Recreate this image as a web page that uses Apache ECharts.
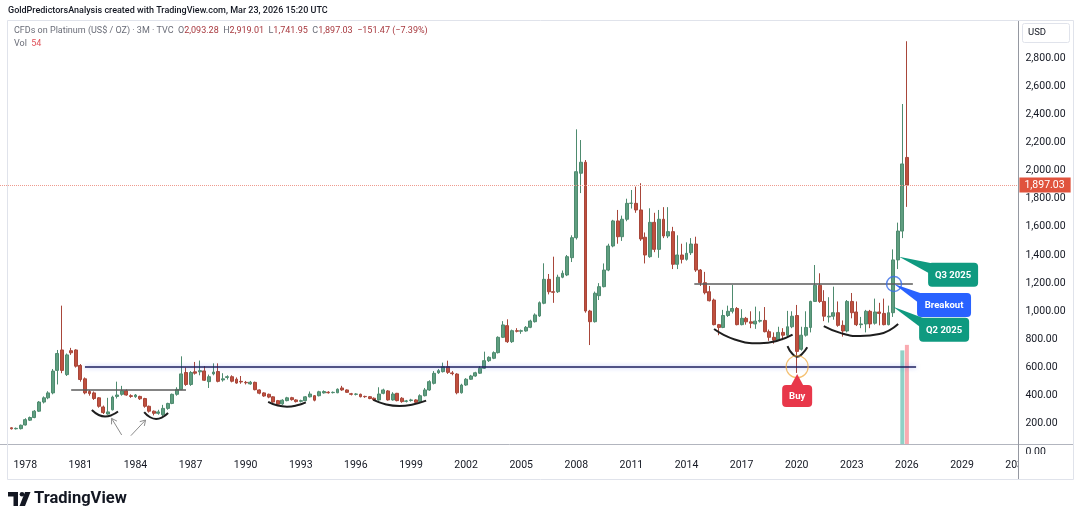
<!DOCTYPE html>
<html><head><meta charset="utf-8">
<script src="https://cdn.jsdelivr.net/npm/echarts@6/dist/echarts.min.js"></script>
<style>html,body{margin:0;padding:0;background:#fff}#c{width:1080px;height:522px}</style>
</head><body><div id="c"></div>
<script>
// ---------------- DATA ----------------
// quarterly categories: 1976 Q4 .. 2032 Q1 (axis room on both sides)
const firstYear = 1976, firstQ = 4, categoryCount = 222;
const candleStartIndex = 2; // first candle = 1977 Q2
// quarterly candles [open, close, low, high]
const ohlc = [
  [172,165,160,176],[165,168,160,174],[166,190,160,195],
  [192,230,188,240],[226,245,220,252],[245,290,240,298],[290,355,285,362],
  [355,385,345,395],[385,420,375,432],[420,575,410,590],[580,700,480,725],
  [725,580,560,1040],[550,690,540,700],[720,705,690,740],[725,610,600,730],
  [615,515,500,625],[520,420,410,530],[430,415,400,440],[420,380,370,430],
  [385,325,315,390],[320,280,270,330],[270,285,265,385],[300,390,295,400],
  [395,405,380,500],[410,435,400,470],[435,405,400,445],[400,395,385,410],
  [393,405,385,412],[395,378,370,400],[380,325,315,385],[325,290,280,330],
  [290,275,260,295],[275,285,265,300],[265,310,255,335],[310,345,300,350],
  [345,410,340,415],[410,445,400,460],[445,555,440,680],[565,480,470,600],
  [480,565,470,575],[570,560,550,640],[570,578,545,650],[576,510,505,610],
  [500,535,455,550],[555,568,545,630],[572,502,495,630],[512,520,500,560],
  [530,535,515,545],[535,503,495,545],[517,490,485,530],[502,498,485,540],
  [495,492,480,505],[484,496,478,505],[495,443,438,500],[441,418,410,445],
  [420,398,392,425],[410,390,382,415],[392,355,350,396],[365,340,335,370],
  [342,368,335,375],[365,385,360,392],[386,372,365,392],[370,358,352,375],
  [360,365,352,372],[365,392,360,398],[392,412,388,430],[400,368,360,405],
  [400,428,395,435],[420,430,415,438],[425,421,415,432],[422,424,416,430],
  [421,446,418,452],[455,441,435,470],[441,424,420,445],[414,410,402,420],
  [410,412,402,418],[410,393,388,415],[395,393,385,400],[393,380,375,398],
  [382,370,365,388],[370,412,365,460],[417,441,410,450],[434,370,365,440],
  [370,412,365,425],[417,365,360,420],[382,358,350,390],[360,363,352,370],
  [366,370,358,378],[370,353,348,375],[358,400,350,410],[400,441,395,455],
  [441,500,435,510],[488,559,480,575],[563,578,555,590],[571,606,565,635],
  [606,566,555,649],[562,557,545,575],[554,421,410,560],[421,476,415,485],
  [476,517,470,525],[517,540,512,548],[540,563,535,570],[560,595,555,610],
  [595,649,590,713],[649,673,640,680],[666,706,660,715],[706,815,700,822],
  [815,903,810,930],[898,784,775,943],[784,862,775,870],[862,858,850,880],
  [858,862,840,870],[860,886,855,895],[886,931,880,940],[926,974,920,985],
  [967,1061,960,1070],[1057,1227,1050,1341],[1227,1139,1120,1265],[1139,1135,1060,1388],
  [1139,1242,1130,1260],[1242,1270,1235,1290],[1258,1388,1250,1400],[1381,1523,1350,1540],
  [1523,1992,1510,2293],[1981,2059,1840,2217],[2059,1002,990,2075],[1002,926,760,1010],
  [926,1128,920,1140],[1111,1175,1080,1200],[1175,1293,1170,1340],[1293,1464,1285,1480],
  [1464,1642,1455,1650],[1642,1530,1480,1720],[1530,1654,1500,1680],[1654,1767,1640,1800],
  [1767,1768,1730,1862],[1767,1720,1700,1886],[1720,1514,1500,1910],[1526,1400,1340,1560],
  [1388,1632,1380,1732],[1632,1440,1420,1700],[1440,1654,1380,1720],[1654,1535,1520,1740],
  [1535,1566,1520,1740],[1566,1334,1300,1600],[1334,1400,1300,1540],[1400,1369,1340,1480],
  [1369,1412,1360,1490],[1416,1478,1400,1520],[1478,1293,1280,1530],[1293,1203,1180,1300],
  [1203,1132,1120,1280],[1139,1075,1070,1180],[1080,905,900,1090],[905,885,830,910],
  [885,970,880,1010],[970,1000,960,1040],[1000,1020,985,1187],[1020,905,900,1030],
  [905,950,900,1015],[950,925,905,960],[925,915,880,1000],[910,930,875,1033],
  [930,935,920,1000],[935,855,850,1030],[855,815,790,870],[815,795,770,850],
  [795,850,790,890],[850,830,795,880],[830,890,820,1003],[890,965,880,1000],
  [970,715,562,1045],[730,830,720,890],[830,885,820,1000],[885,1070,850,1075],
  [1070,1185,1070,1329],[1185,1070,1060,1270],[1070,965,930,1150],[960,965,920,1100],
  [965,990,940,1175],[990,900,890,1070],[900,860,820,935],[860,1070,850,1080],
  [1070,990,950,1130],[995,905,895,1070],[905,910,880,960],[910,1000,850,1010],
  [1000,910,880,1010],[915,995,905,1090],[995,985,900,1060],[985,905,900,1090],
  [905,990,900,1040],[990,1365,960,1440],[1365,1570,1300,1630],[1570,2047,1520,2473],
  [2093.28,1897.03,1741.95,2919.01]
];
const volQuarters = ['2025 Q4', '2026 Q1'];
const volValues = [51, 54];
const volUp = [true, false];
const yearTicks = ['1978','1981','1984','1987','1990','1993','1996','1999','2002','2005','2008','2011','2014','2017','2020','2023','2026','2029','2032'];
const lastClose = 1897.03;
// drawn levels: [fromQuarterIdx, toQuarterIdx, price]
const blueLevel = [18, 199, 606];
const neckline80s = [15, 40, 441];
const neckline2020 = [150.7, 198.3, 1199];
// hand-drawn smile arcs (quarter index, price)
const arcs = [
  [[19.5,298],[21,263],[22.4,252],[23.8,262],[25.2,288]],
  [[30.9,284],[32.2,247],[33.5,235],[34.8,246],[36.1,277]],
  [[57.9,357],[60,330],[62,322],[64,330],[66.1,353]],
  [[80.8,370],[83.6,338],[86.5,327],[89.4,338],[92.3,365]],
  [[155,874],[159.5,800],[165,772],[168.8,790],[172.1,834]],
  [[171,753],[172,700],[173.1,677],[174.2,698],[175.3,744]],
  [[178.9,895],[182.8,843],[186.8,824],[191,838],[195.1,910]]
];
const arrows = [[26.0,121,23.8,239],[28.0,116,31.2,227]];
const circles = [
  {pos:[173.1,606], size:22, color:'#f1b04e', width:1.2},
  {pos:[194.2,1194], size:15, color:'#3a6ee8', width:1.5}
];
const callouts = [
  {label:'Buy', tip:[173.1,554], box:[-15,11,30,22], up:true, color:'#e8374a'},
  {label:'Q3 2025', tip:[195.3,1388], box:[29,6,50,24], color:'#0f9a80'},
  {label:'Breakout', tip:[194.2,1194], box:[23,9,54,24], color:'#2962ff'},
  {label:'Q2 2025', tip:[194.0,1033], box:[26,11,50,24], color:'#0f9a80'}
];

// ---------------- BUILD ----------------
const categories = [];
for (let i = 0; i < categoryCount; i++) {
  const q = firstQ - 1 + i;
  categories.push((firstYear + Math.floor(q / 4)) + ' Q' + (q % 4 + 1));
}
const candleData = ohlc.map((r, k) => [candleStartIndex + k, r[0], r[1], r[2], r[3]]);
const fmt = v => v.toLocaleString('en-US', {minimumFractionDigits: 2, maximumFractionDigits: 2});
const FONT = 'Roboto, "Noto Sans", sans-serif';

const chart = echarts.init(document.getElementById('c'), null, {renderer: 'canvas'});

const levelLine = (l, style) => [{coord: [l[0], l[2]], lineStyle: style}, {coord: [l[1], l[2]]}];

const series = [
  {
    type: 'candlestick', name: 'Platinum', xAxisIndex: 0, yAxisIndex: 0,
    data: candleData, encode: {x: 0, y: [1, 2, 3, 4]},
    barWidth: 3.4,
    itemStyle: {color: '#5f9e80', color0: '#c0503e', borderColor: '#4e8b6f', borderColor0: '#a8463a', borderWidth: 1},
    z: 3,
    markLine: {
      silent: true, symbol: ['none', 'none'], animation: false,
      data: [{yAxis: lastClose}],
      lineStyle: {type: 'dotted', color: '#ee9a8e', width: 1},
      label: {
        show: true, position: 'end', distance: 0, formatter: fmt(lastClose),
        backgroundColor: '#e0533d', color: '#fff', padding: [2, 6, 2, 5],
        fontSize: 10.5, fontFamily: FONT
      }
    }
  },
  {
    type: 'bar', name: 'Vol', xAxisIndex: 1, yAxisIndex: 1, barWidth: 4,
    data: volQuarters.map((q, k) => ({value: [q, volValues[k]],
      itemStyle: {color: volUp[k] ? 'rgba(8,153,129,0.45)' : 'rgba(242,54,69,0.42)'}})),
    encode: {x: 0, y: 1}
  }
];
arcs.forEach((pts, k) => {
  const s = {
    type: 'line', xAxisIndex: 2, yAxisIndex: 0, data: pts, smooth: 0.5,
    symbol: 'none', silent: true, z: 5,
    lineStyle: {color: '#1e1e1e', width: 2}
  };
  if (k === 0) {
    s.markLine = {
      silent: true, symbol: ['none', 'none'], label: {show: false}, animation: false,
      lineStyle: {type: 'solid'},
      data: [
        levelLine(blueLevel, {type: 'solid', color: '#1c1f5e', width: 1.6, shadowColor: 'rgba(90,110,240,0.5)', shadowBlur: 4}),
        levelLine(neckline80s, {type: 'solid', color: '#5b5b5b', width: 1.5}),
        levelLine(neckline2020, {type: 'solid', color: '#5b5b5b', width: 1.5})
      ]
    };
  }
  series.push(s);
});
series.push({
  type: 'scatter', xAxisIndex: 2, yAxisIndex: 0, silent: true, z: 6,
  data: circles.map(c => ({value: c.pos, symbolSize: c.size,
    itemStyle: {color: 'rgba(255,255,255,0)', borderColor: c.color, borderWidth: c.width}}))
});
series.push({
  type: 'custom', xAxisIndex: 2, yAxisIndex: 0, silent: true, z: 6, clip: false,
  data: arrows, encode: {x: [0, 2], y: [1, 3]},
  renderItem: (params, api) => {
    const s = api.coord([api.value(0), api.value(1)]);
    const e = api.coord([api.value(2), api.value(3)]);
    const ang = Math.atan2(e[1] - s[1], e[0] - s[0]);
    const L = 6, a = 0.55;
    const h1 = [e[0] - L * Math.cos(ang - a), e[1] - L * Math.sin(ang - a)];
    const h2 = [e[0] - L * Math.cos(ang + a), e[1] - L * Math.sin(ang + a)];
    return {type: 'group', children: [
      {type: 'line', shape: {x1: s[0], y1: s[1], x2: e[0], y2: e[1]}, style: {stroke: '#8c8c8c', lineWidth: 1}},
      {type: 'polyline', shape: {points: [h1, e, h2]}, style: {stroke: '#8c8c8c', lineWidth: 1, fill: null}}
    ]};
  }
});
series.push({
  type: 'custom', xAxisIndex: 2, yAxisIndex: 0, silent: true, z: 8, clip: false,
  data: callouts.map(c => c.tip), encode: {x: 0, y: 1},
  renderItem: (params, api) => {
    const c = callouts[params.dataIndex];
    const p = api.coord([api.value(0), api.value(1)]);
    const [dx, dy, w, h] = c.box;
    const bx = p[0] + dx, by = p[1] + dy;
    const wedge = c.up
      ? [[p[0], p[1]], [p[0] + 6.5, by + 1], [p[0] - 6.5, by + 1]]
      : [[p[0], p[1]], [bx + 6, by + 1], [bx + 6, by + h * 0.55]];
    return {type: 'group', children: [
      {type: 'polygon', shape: {points: wedge}, style: {fill: c.color}},
      {type: 'rect', shape: {x: bx, y: by, width: w, height: h, r: 4}, style: {fill: c.color}},
      {type: 'text', style: {text: c.label, x: bx + w / 2, y: by + h / 2 + 0.5, align: 'center', verticalAlign: 'middle',
        fill: '#fff', font: 'bold 9.5px ' + FONT}}
    ]};
  }
});

const option = {
  animation: false,
  backgroundColor: '#ffffff',
  grid: [
    {left: 0, top: 20, width: 1019.4, bottom: 70},
    {left: 0, top: 20, width: 1019.4, bottom: 78}
  ],
  xAxis: [
    {type: 'category', gridIndex: 0, data: categories, show: false, boundaryGap: true},
    {type: 'category', gridIndex: 1, data: categories, boundaryGap: true,
      axisLine: {show: true, lineStyle: {color: '#b2b5be', width: 1}},
      axisTick: {show: false}, splitLine: {show: false},
      axisLabel: {
        interval: (i, v) => v.endsWith('Q1') && yearTicks.indexOf(v.slice(0, 4)) >= 0,
        formatter: v => v.slice(0, 4),
        color: '#131722', fontSize: 10.5, fontFamily: FONT, margin: 16
      }},
    {type: 'value', gridIndex: 0, min: -0.5, max: categoryCount - 0.5, show: false}
  ],
  yAxis: [
    {type: 'value', gridIndex: 0, position: 'right', min: 0, max: 3070, interval: 200,
      axisLine: {show: false}, axisTick: {show: false}, splitLine: {show: false},
      axisLabel: {formatter: v => v > 2800 ? '' : fmt(v), color: '#131722', fontSize: 10.5, fontFamily: FONT, margin: 6}},
    {type: 'value', gridIndex: 1, min: 0, max: 231, show: false}
  ],
  series: series,
  graphic: [
    {type: 'rect', z: 100, shape: {x: 1019, y: 454, width: 61, height: 25}, style: {fill: '#ffffff'}},
    {type: 'line', z: 101, shape: {x1: 1019, y1: 444.5, x2: 1073, y2: 444.5}, style: {stroke: '#b2b5be', lineWidth: 1}},
    {type: 'line', z: 101, shape: {x1: 1018.5, y1: 20, x2: 1018.5, y2: 479}, style: {stroke: '#9598a1', lineWidth: 1}},
    {type: 'rect', z: 101, shape: {x: 7.5, y: 20.5, width: 1066, height: 459}, style: {fill: null, stroke: '#e0e3eb', lineWidth: 1}},
    {type: 'rect', z: 101, shape: {x: 1022.5, y: 23.5, width: 47, height: 19, r: 2}, style: {fill: '#fff', stroke: '#e0e3eb', lineWidth: 1}},
    {type: 'text', z: 102, style: {text: 'USD', x: 1028, y: 33, verticalAlign: 'middle', fill: '#131722', font: '9.5px ' + FONT}},
    {type: 'text', z: 102, style: {text: 'GoldPredictorsAnalysis created with TradingView.com, Mar 23, 2026 15:20 UTC',
      x: 8, y: 11, verticalAlign: 'middle', fill: '#131722', font: '500 9px ' + FONT}},
    {type: 'text', z: 102, style: {
      text: '{g|CFDs on Platinum (US$ / OZ) · 3M · TVC}  {g|O}{r|2,093.28}  {g|H}{r|2,919.01}  {g|L}{r|1,741.95}  {g|C}{r|1,897.03}  {r|−151.47 (−7.39%)}',
      x: 14, y: 31, verticalAlign: 'middle', font: '9px ' + FONT,
      rich: {g: {fill: '#6a6d78', font: '9px ' + FONT}, r: {fill: '#a8393f', font: '9px ' + FONT}}}},
    {type: 'text', z: 102, style: {
      text: '{g|Vol}  {r|54}', x: 14, y: 43.5, verticalAlign: 'middle', font: '9px ' + FONT,
      rich: {g: {fill: '#6a6d78', font: '9px ' + FONT}, r: {fill: '#e0535b', font: '9px ' + FONT}}}},
    // TradingView logo
    {type: 'polygon', z: 102, shape: {points: [[8, 492], [18, 492], [18, 506], [13.5, 506], [13.5, 496.5], [8, 496.5]]}, style: {fill: '#131722'}},
    {type: 'circle', z: 102, shape: {cx: 22, cy: 494.3, r: 2.3}, style: {fill: '#131722'}},
    {type: 'polygon', z: 102, shape: {points: [[25, 492], [30.5, 492], [25, 506], [19.5, 506]]}, style: {fill: '#131722'}},
    {type: 'text', z: 102, style: {text: 'TradingView', x: 34, y: 499, verticalAlign: 'middle', fill: '#131722', font: 'bold 16.5px ' + FONT}}
  ]
};
chart.setOption(option);
</script>
</body></html>
